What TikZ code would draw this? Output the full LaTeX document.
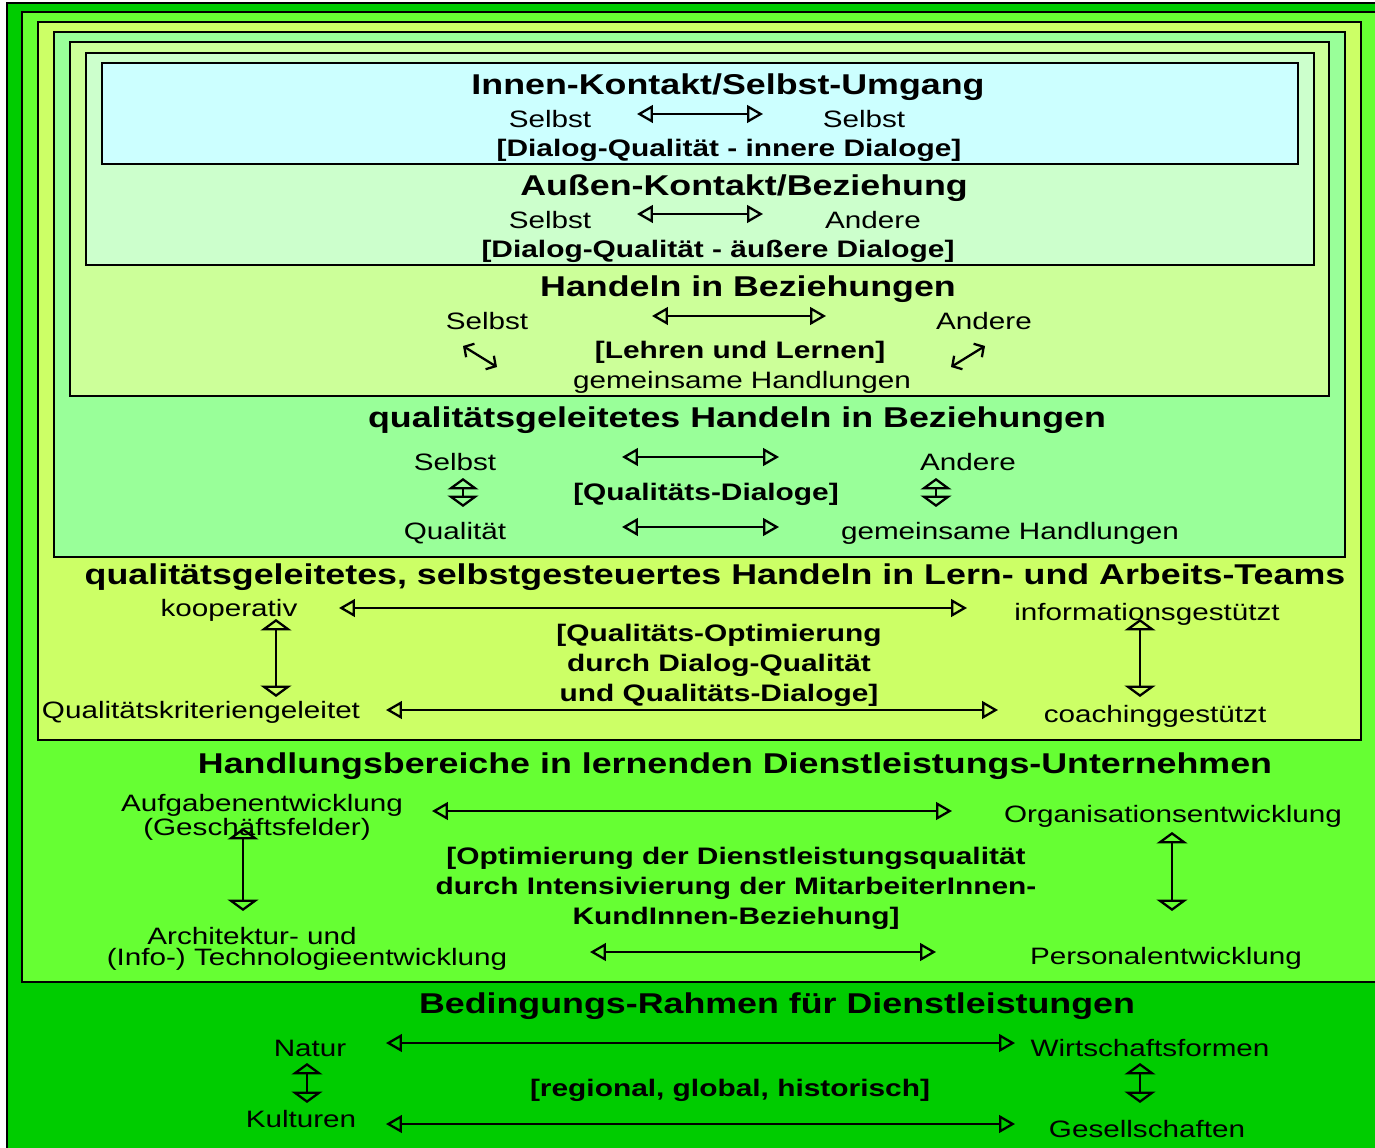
\documentclass[tikz,border=0pt]{standalone}
\usepackage{fontspec}
\setmainfont{Liberation Sans}[FakeStretch=1.25]
\usepackage{xcolor}
\usetikzlibrary{arrows.meta}
\definecolor{rahmengruen}{HTML}{00CC00}
\definecolor{bereichgruen}{HTML}{66FF33}
\definecolor{teamgruen}{HTML}{CCFF66}
\definecolor{qualigruen}{HTML}{99FF99}
\definecolor{handelngruen}{HTML}{CCFF99}
\definecolor{aussengruen}{HTML}{CCFFCC}
\definecolor{innenblau}{HTML}{CCFFFF}

\begin{document}
\begin{tikzpicture}[x=0.02cm,y=-0.02cm,
	box/.style={draw=black,line width=1.5pt},
	head/.style={font=\bfseries\fontsize{16.3}{18}\selectfont,inner sep=0pt,yshift=-1.5pt},
	brk/.style={font=\bfseries\fontsize{13.6}{17}\selectfont,align=center,inner sep=0pt,yshift=-1.5pt},
	txt/.style={font=\fontsize{13.5}{12}\selectfont,align=center,inner sep=0pt,yshift=-0.7pt},
	harrow/.style={line width=1.3pt,{Triangle[open,length=9pt,width=10pt]}-{Triangle[open,length=9pt,width=10pt]}},
	varrow/.style={line width=1.3pt,{Triangle[open,length=6.5pt,width=17.5pt]}-{Triangle[open,length=6.5pt,width=17.5pt]}},
	darrow/.style={line width=1.3pt,{Straight Barb[length=4pt,width=9pt]}-{Straight Barb[length=4pt,width=9pt]}}]
	\useasboundingbox (0,0) rectangle (1375,1148);
	\clip (0,0) rectangle (1375,1148);
	\fill[white] (0,0) rectangle (1375,1148);
	% nested frames, outside in
	\foreach \l/\t/\r/\b/\c in {7/3/1420/1200/rahmengruen,22/12/1420/982/bereichgruen,
		38/22/1361/740/teamgruen,54/32/1345/557/qualigruen,70/42/1329/396/handelngruen,
		86/53/1314/265/aussengruen,102/63/1298/164/innenblau}
	\draw[box,fill=\c] (\l,\t) rectangle (\r,\b);

	% Innen-Kontakt
	\node[head] (innen) at (728,85) {Innen-Kontakt/Selbst-Umgang};
	\node[txt] (inS1) at (550,118) {Selbst};
	\node[txt] (inS2) at (864,118) {Selbst};
	\node[brk] (inD) at (729,148) {[Dialog-Qualität - innere Dialoge]};
	\coordinate (inL) at (637,114); \coordinate (inR) at (763,114);
	\draw[harrow] (inL) -- (inR);

	% Aussen-Kontakt
	\node[head] (aussen) at (744,186) {Außen-Kontakt/Beziehung};
	\node[txt] (auS) at (550,219) {Selbst};
	\node[txt] (auA) at (873,219) {Andere};
	\node[brk] (auD) at (718,249) {[Dialog-Qualität - äußere Dialoge]};
	\coordinate (auL) at (637,214); \coordinate (auR) at (763,214);
	\draw[harrow] (auL) -- (auR);

	% Handeln
	\node[head] (hand) at (748,287) {Handeln in Beziehungen};
	\node[txt] (haS) at (487,320) {Selbst};
	\node[txt] (haA) at (984,320) {Andere};
	\node[brk] (haL) at (740,350) {[Lehren und Lernen]};
	\node[txt] (haG) at (742,381) {gemeinsame Handlungen};
	\coordinate (haL1) at (652,316); \coordinate (haR1) at (826,316);
	\draw[harrow] (haL1) -- (haR1);
	\coordinate (haD1) at (463,346); \coordinate (haD2) at (497,367);
	\coordinate (haD3) at (951,367); \coordinate (haD4) at (985,346);
	\draw[darrow] (haD1) -- (haD2);
	\draw[darrow] (haD3) -- (haD4);

	% qualitaetsgeleitet
	\node[head] (qual) at (737,418) {qualitätsgeleitetes Handeln in Beziehungen};
	\node[txt] (quS) at (455,461) {Selbst};
	\node[txt] (quA) at (968,461) {Andere};
	\node[brk] (quD) at (706,492) {[Qualitäts-Dialoge]};
	\node[txt] (quQ) at (455,532) {Qualität};
	\node[txt] (quG) at (1010,532) {gemeinsame Handlungen};
	\coordinate (quL1) at (622,457); \coordinate (quR1) at (779,457);
	\coordinate (quL2) at (622,527); \coordinate (quR2) at (779,527);
	\draw[harrow] (quL1) -- (quR1);
	\draw[harrow] (quL2) -- (quR2);
	\foreach \x in {463,936}
	\draw[varrow] (\x,478) -- (\x,507);

	% Teams
	\node[head] (team) at (715,575) {qualitätsgeleitetes, selbstgesteuertes Handeln in Lern- und Arbeits-Teams};
	\node[txt] (teK) at (229,609) {kooperativ};
	\node[txt] (teI) at (1147,613) {informationsgestützt};
	\node[brk] (teO) at (719,663) {[Qualitäts-Optimierung\\durch Dialog-Qualität\\und Qualitäts-Dialoge]};
	\node[txt] (teQ) at (201,711) {Qualitätskriteriengeleitet};
	\node[txt] (teC) at (1155,715) {coachinggestützt};
	\coordinate (teL1) at (339,608); \coordinate (teR1) at (967,608);
	\coordinate (teL2) at (386,710); \coordinate (teR2) at (998,710);
	\draw[harrow] (teL1) -- (teR1);
	\draw[harrow] (teL2) -- (teR2);
	\foreach \x in {276,1140}
	\draw[varrow] (\x,619) -- (\x,697);

	% Handlungsbereiche
	\node[head] (bereich) at (735,764) {Handlungsbereiche in lernenden Dienstleistungs-Unternehmen};
	\node[txt] (beA1) at (262,804.5) {Aufgabenentwicklung};
	\node[txt] (beA2) at (257,828) {(Geschäftsfelder)};
	\node[txt] (beO) at (1173,815) {Organisationsentwicklung};
	\node[brk] (beD) at (736,886) {[Optimierung der Dienstleistungsqualität\\durch Intensivierung der MitarbeiterInnen-\\KundInnen-Beziehung]};
	\node[txt] (beT1) at (252,935) {Architektur- und};
	\node[txt] (beT2) at (307,958.5) {(Info-) Technologieentwicklung};
	\node[txt] (beP) at (1166,957) {Personalentwicklung};
	\coordinate (beL1) at (432,811); \coordinate (beR1) at (952,811);
	\coordinate (beL2) at (590,952); \coordinate (beR2) at (936,952);
	\draw[harrow] (beL1) -- (beR1);
	\draw[harrow] (beL2) -- (beR2);
	\draw[varrow] (243,828) -- (243,911);
	\draw[varrow] (1172,832) -- (1172,911);

	% Bedingungs-Rahmen
	\node[head] (rahmen) at (777,1004) {Bedingungs-Rahmen für Dienstleistungen};
	\node[txt] (raN) at (310,1047) {Natur};
	\node[txt] (raW) at (1150,1047) {Wirtschaftsformen};
	\node[brk] (raR) at (730,1088) {[regional, global, historisch]};
	\node[txt] (raK) at (301,1118) {Kulturen};
	\node[txt] (raG) at (1147,1128) {Gesellschaften};
	\coordinate (raL1) at (386,1043); \coordinate (raR1) at (1015,1043);
	\coordinate (raL2) at (386,1124); \coordinate (raR2) at (1015,1124);
	\draw[harrow] (raL1) -- (raR1);
	\draw[harrow] (raL2) -- (raR2);
	\foreach \x in {307,1140}
	\draw[varrow] (\x,1063) -- (\x,1103);
\end{tikzpicture}
\end{document}
